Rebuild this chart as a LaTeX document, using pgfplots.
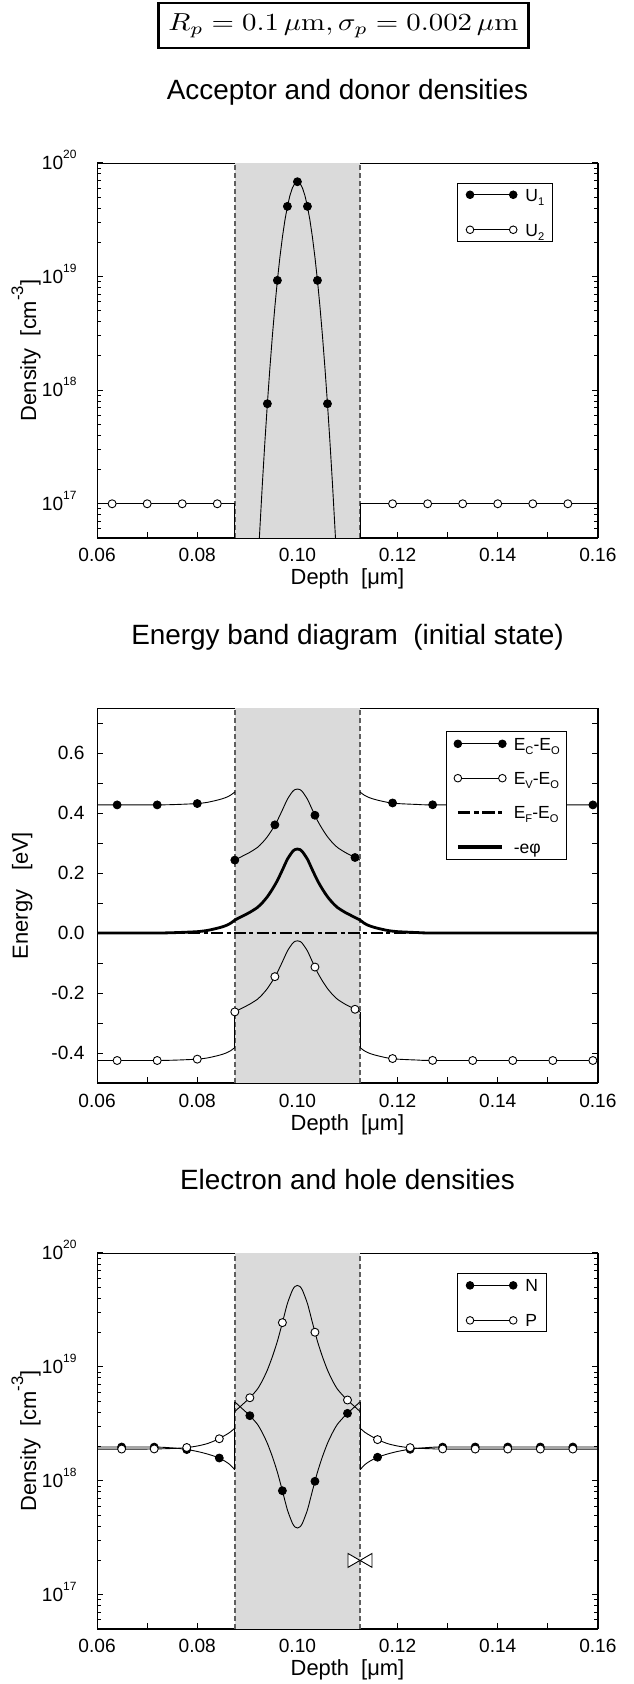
\documentclass[border=0pt]{standalone}
\usepackage[no-math]{fontspec}
\setmainfont{Liberation Sans}
\usepackage{graphicx}
\usepackage{pgfplots}
\pgfplotsset{compat=1.18}

\definecolor{shade}{RGB}{218,218,218}
\definecolor{dashgray}{RGB}{95,95,95}

% 10^n tick labels and small subscripts, as in the original figure
\newcommand\tp[1]{10\smash{\raisebox{5.5bp}{\fontsize{6}{6}\selectfont #1}}}
\newcommand\sub[1]{\raisebox{-2bp}{\fontsize{5.6}{6}\selectfont #1}}
\newcommand\cmm{[cm\raisebox{6.5bp}{\fontsize{8.4}{9}\selectfont -3}]}

% legend pictures: a line with a dot at each end
\newcommand\legdots[3]{% length, gap to text, fill colour
  \path[draw=none, fill=none] (-2bp,-2bp) rectangle (#2,2bp);
  \draw[black, line width=0.45bp] (0bp,0bp) -- (#1,0bp);
  \filldraw[fill=#3, draw=black, line width=0.45bp] (0bp,0bp) circle[radius=1.9bp];
  \filldraw[fill=#3, draw=black, line width=0.45bp] (#1,0bp) circle[radius=1.9bp];}

\pgfplotsset{
  panel/.style={
    scale only axis, width=250.4bp, height=187.5bp,
    xmin=0.06, xmax=0.16, clip=false,
    axis x line*=bottom, axis y line*=box,
    axis line style={-, line width=0.6bp},
    xtick={0.06,0.07,0.08,0.09,0.10,0.11,0.12,0.13,0.14,0.15,0.16},
    xticklabels={0.06,,0.08,,0.10,,0.12,,0.14,,0.16},
    xtick pos=left, ytick pos=both, yticklabel pos=left,
    tick align=inside,
    major tick length=2.8bp, minor tick length=2bp,
    tick style={line width=0.5bp, black},
    tick label style={font=\fontsize{9.6}{11}\selectfont},
    xticklabel style={yshift=-1.8bp},
    xlabel={Depth\hspace{0.55em}[μm]},
    xlabel style={font=\fontsize{11}{13}\selectfont, at={(axis description cs:0.5,0)}, anchor=base, yshift=-23.5bp},
    ylabel style={font=\fontsize{11}{13}\selectfont, anchor=base},
    title style={font=\fontsize{14}{16}\selectfont, at={(axis description cs:0.5,1)}, anchor=base, yshift=25.65bp},
    legend cell align=left,
    legend style={draw=black, line width=0.5bp, fill=white, anchor=north west,
      font=\fontsize{8.8}{10}\selectfont,
      nodes={inner sep=0pt, text height=6.3bp, text depth=0pt},
      inner xsep=4.1bp, inner ysep=2.65bp, row sep=11.2bp},
  },
  logpanel/.style={
    ymin=5e16, ymax=1e20,
    ytick={1e17,1e18,1e19,1e20},
    yticklabels={\tp{17},\tp{18},\tp{19},\tp{20}},
    minor ytick={6e16,7e16,8e16,9e16,2e17,3e17,4e17,5e17,6e17,7e17,8e17,9e17,
      2e18,3e18,4e18,5e18,6e18,7e18,8e18,9e18,2e19,3e19,4e19,5e19,6e19,7e19,8e19,9e19},
    yticklabel style={xshift=-6.8bp},
    ylabel={Density\hspace{0.55em}\cmm},
    ylabel style={at={(axis description cs:-0.122,0.5)}},
  },
  curve/.style={black, line width=0.45bp, forget plot},
  fdot/.style={only marks, mark=*, mark size=2bp, mark options={fill=black, draw=black}, forget plot},
  odot/.style={only marks, mark=*, mark size=2bp, mark options={fill=white, draw=black, line width=0.45bp}, forget plot},
  sep/.style={dashgray, line width=0.7bp, dash pattern=on 2.5bp off 1.5bp, forget plot},
  edge/.style={black, line width=0.45bp, line cap=rect, forget plot},
}

\begin{document}
\begin{tikzpicture}
\path[use as bounding box] (0bp,0bp) rectangle (317bp,-842bp);

\node[draw, line width=1.3bp, minimum width=184.8bp, minimum height=22.5bp, inner sep=0pt]
  at (171.7bp,-12.75bp)
  {\resizebox{175bp}{8.4bp}{$R_p = 0.1\,\mu\mathrm{m}, \sigma_p = 0.002\,\mu\mathrm{m}$}};

% ---------------- acceptor and donor densities
\begin{semilogyaxis}[panel, logpanel, at={(48.55bp,-81.5bp)}, anchor=north west,
    title={Acceptor and donor densities},
    legend style={at={(0.7188,0.9475)}}]
  \addplot[fill=shade, draw=none, forget plot] coordinates {(0.0875,5e16) (0.1125,5e16) (0.1125,1e20) (0.0875,1e20)} -- cycle;
  \addplot[edge] coordinates {(0.06,1e20) (0.0875,1e20)};
  \addplot[edge] coordinates {(0.1125,1e20) (0.16,1e20)};
  \addplot[sep] coordinates {(0.0875,5e16) (0.0875,1e20)};
  \addplot[sep] coordinates {(0.1125,5e16) (0.1125,1e20)};
  % U1
  \addplot[curve] coordinates {
    (0.0924,5.0e16) (0.0930,1.496e17) (0.0935,3.48e17) (0.0940,7.60e17) (0.0945,1.56e18)
    (0.0950,3.01e18) (0.0955,5.44e18) (0.0960,9.26e18) (0.0965,1.48e19) (0.0970,2.22e19)
    (0.0975,3.13e19) (0.0980,4.15e19) (0.0985,5.16e19) (0.0990,6.04e19) (0.0995,6.63e19)
    (0.1000,6.84e19) (0.1005,6.63e19) (0.1010,6.04e19) (0.1015,5.16e19) (0.1020,4.15e19)
    (0.1025,3.13e19) (0.1030,2.22e19) (0.1035,1.48e19) (0.1040,9.26e18) (0.1045,5.44e18)
    (0.1050,3.01e18) (0.1055,1.56e18) (0.1060,7.60e17) (0.1065,3.48e17) (0.1070,1.496e17)
    (0.1076,5.0e16)};
  \addplot[fdot] coordinates {(0.094,7.60e17) (0.096,9.26e18) (0.098,4.15e19) (0.100,6.84e19)
    (0.102,4.15e19) (0.104,9.26e18) (0.106,7.60e17)};
  % U2
  \addplot[curve] coordinates {(0.06,1e17) (0.0875,1e17) (0.0875,5e16)};
  \addplot[curve] coordinates {(0.1125,5e16) (0.1125,1e17) (0.16,1e17)};
  \addplot[odot] coordinates {(0.063,1e17) (0.070,1e17) (0.077,1e17) (0.084,1e17)
    (0.119,1e17) (0.126,1e17) (0.133,1e17) (0.140,1e17) (0.147,1e17) (0.154,1e17)};

  \addlegendimage{legend image code/.code={\legdots{21.6bp}{27.7bp}{black}}}
  \addlegendentry{U\sub{1}}
  \addlegendimage{legend image code/.code={\legdots{21.6bp}{27.7bp}{white}}}
  \addlegendentry{U\sub{2}}
\end{semilogyaxis}

% ---------------- energy band diagram
\begin{axis}[panel, at={(48.55bp,-354bp)}, anchor=north west,
    title={Energy band diagram\hspace{0.55em}(initial state)},
    ymin=-0.5, ymax=0.75,
    ytick={-0.4,-0.3,-0.2,-0.1,0,0.1,0.2,0.3,0.4,0.5,0.6,0.7},
    yticklabels={-0.4,,-0.2,,0.0,,0.2,,0.4,,0.6,},
    yticklabel style={xshift=-2.8bp},
    ylabel={Energy\hspace{0.85em}[eV]},
    ylabel style={at={(axis description cs:-0.1383,0.5)}},
    legend style={at={(0.6971,0.9395)}, inner xsep=3.45bp, inner ysep=3.15bp, row sep=10.9bp}]
  \addplot[fill=shade, draw=none, forget plot] coordinates {(0.0875,-0.5) (0.1125,-0.5) (0.1125,0.75) (0.0875,0.75)} -- cycle;
  \addplot[edge] coordinates {(0.06,0.75) (0.0875,0.75)};
  \addplot[edge] coordinates {(0.1125,0.75) (0.16,0.75)};
  \addplot[sep] coordinates {(0.0875,-0.5) (0.0875,0.75)};
  \addplot[sep] coordinates {(0.1125,-0.5) (0.1125,0.75)};
  % E_F - E_O
  \addplot[black, line width=1.2bp, dash pattern=on 6bp off 1.7bp on 2bp off 1.7bp, forget plot]
    coordinates {(0.06,0) (0.16,0)};
  % -e phi
  \addplot[black, line width=1.4bp, smooth, tension=0.4, forget plot] coordinates {
    (0.0600,0) (0.0720,0) (0.0760,0.0015) (0.0800,0.0045) (0.0820,0.0085) (0.0839,0.0155)
    (0.0850,0.0205) (0.0859,0.026) (0.0867,0.033) (0.0875,0.043) (0.0890,0.056) (0.0905,0.069)
    (0.0920,0.085) (0.0930,0.101) (0.0940,0.121) (0.0950,0.146) (0.0960,0.175) (0.0970,0.210)
    (0.0980,0.246) (0.0990,0.271) (0.0995,0.278) (0.1000,0.280) (0.1005,0.278) (0.1010,0.271)
    (0.1020,0.246) (0.1030,0.210) (0.1040,0.175) (0.1050,0.146) (0.1060,0.121) (0.1070,0.101)
    (0.1080,0.085) (0.1095,0.069) (0.1110,0.056) (0.1125,0.043) (0.1133,0.033) (0.1141,0.026)
    (0.1150,0.0205) (0.1161,0.0155) (0.1180,0.0085) (0.1200,0.0045) (0.1240,0.0015)
    (0.1280,0) (0.1600,0)};
  % E_C - E_O
  \addplot[curve, smooth, tension=0.4] coordinates {
    (0.0600,0.4270) (0.0720,0.4270) (0.0760,0.4285) (0.0800,0.4315) (0.0820,0.4355)
    (0.0839,0.4425) (0.0850,0.4475) (0.0859,0.4530) (0.0867,0.4600) (0.0875,0.4700)};
  \addplot[curve, smooth, tension=0.4] coordinates {
    (0.0875,0.243) (0.0890,0.256) (0.0905,0.269) (0.0920,0.285) (0.0930,0.301) (0.0940,0.321)
    (0.0950,0.346) (0.0960,0.375) (0.0970,0.410) (0.0980,0.446) (0.0990,0.471) (0.0995,0.478)
    (0.1000,0.480) (0.1005,0.478) (0.1010,0.471) (0.1020,0.446) (0.1030,0.410) (0.1040,0.375)
    (0.1050,0.346) (0.1060,0.321) (0.1070,0.301) (0.1080,0.285) (0.1095,0.269) (0.1110,0.256)
    (0.1125,0.243)};
  \addplot[curve, smooth, tension=0.4] coordinates {
    (0.1125,0.4700) (0.1133,0.4600) (0.1141,0.4530) (0.1150,0.4475) (0.1161,0.4425)
    (0.1180,0.4355) (0.1200,0.4315) (0.1240,0.4285) (0.1280,0.4270) (0.1600,0.4270)};
  \addplot[fdot] coordinates {(0.064,0.427) (0.072,0.427) (0.080,0.4315) (0.0875,0.243)
    (0.0955,0.3605) (0.1035,0.3925) (0.1115,0.2517) (0.119,0.4335) (0.127,0.4274)
    (0.135,0.427) (0.143,0.427) (0.151,0.427) (0.159,0.427)};
  % E_V - E_O
  \addplot[curve, smooth, tension=0.4] coordinates {
    (0.0600,-0.4250) (0.0720,-0.4250) (0.0760,-0.4235) (0.0800,-0.4205) (0.0820,-0.4165)
    (0.0839,-0.4095) (0.0850,-0.4045) (0.0859,-0.3990) (0.0867,-0.3920) (0.0875,-0.3820)};
  \addplot[curve] coordinates {(0.0875,-0.3820) (0.0875,-0.263)};
  \addplot[curve, smooth, tension=0.4] coordinates {
    (0.0875,-0.263) (0.0890,-0.250) (0.0905,-0.237) (0.0920,-0.221) (0.0930,-0.205) (0.0940,-0.185)
    (0.0950,-0.160) (0.0960,-0.131) (0.0970,-0.096) (0.0980,-0.060) (0.0990,-0.035) (0.0995,-0.028)
    (0.1000,-0.026) (0.1005,-0.028) (0.1010,-0.035) (0.1020,-0.060) (0.1030,-0.096) (0.1040,-0.131)
    (0.1050,-0.160) (0.1060,-0.185) (0.1070,-0.205) (0.1080,-0.221) (0.1095,-0.237) (0.1110,-0.250)
    (0.1125,-0.263)};
  \addplot[curve] coordinates {(0.1125,-0.263) (0.1125,-0.3820)};
  \addplot[curve, smooth, tension=0.4] coordinates {
    (0.1125,-0.3820) (0.1133,-0.3920) (0.1141,-0.3990) (0.1150,-0.4045) (0.1161,-0.4095)
    (0.1180,-0.4165) (0.1200,-0.4205) (0.1240,-0.4235) (0.1280,-0.4250) (0.1600,-0.4250)};
  \addplot[odot] coordinates {(0.064,-0.425) (0.072,-0.425) (0.080,-0.4205) (0.0875,-0.263)
    (0.0955,-0.1455) (0.1035,-0.1135) (0.1115,-0.2543) (0.119,-0.4185) (0.127,-0.4246)
    (0.135,-0.425) (0.143,-0.425) (0.151,-0.425) (0.159,-0.425)};

  \addlegendimage{legend image code/.code={\legdots{22.25bp}{27.95bp}{black}}}
  \addlegendentry{E\sub{C}-E\sub{O}}
  \addlegendimage{legend image code/.code={\legdots{22.25bp}{27.95bp}{white}}}
  \addlegendentry{E\sub{V}-E\sub{O}}
  \addlegendimage{legend image code/.code={
    \path[draw=none, fill=none] (-2bp,-2bp) rectangle (27.95bp,2bp);
    \draw[black, line width=1.4bp, dash pattern=on 6.3bp off 1.7bp on 2.5bp off 1.7bp] (0bp,0bp) -- (22.25bp,0bp);}}
  \addlegendentry{E\sub{F}-E\sub{O}}
  \addlegendimage{legend image code/.code={
    \path[draw=none, fill=none] (-2bp,-2bp) rectangle (27.95bp,2bp);
    \draw[black, line width=1.7bp] (0bp,0bp) -- (22.25bp,0bp);}}
  \addlegendentry{-eφ}
\end{axis}

% ---------------- electron and hole densities
\begin{semilogyaxis}[panel, logpanel, at={(48.55bp,-626.5bp)}, anchor=north west, height=188bp,
    title={Electron and hole densities},
    legend style={at={(0.7188,0.946)}}]
  \addplot[fill=shade, draw=none, forget plot] coordinates {(0.0875,5e16) (0.1125,5e16) (0.1125,1e20) (0.0875,1e20)} -- cycle;
  \addplot[edge] coordinates {(0.06,1e20) (0.0875,1e20)};
  \addplot[edge] coordinates {(0.1125,1e20) (0.16,1e20)};
  \addplot[sep] coordinates {(0.0875,5e16) (0.0875,1e20)};
  \addplot[sep] coordinates {(0.1125,5e16) (0.1125,1e20)};
  % N
  \addplot[curve, smooth, tension=0.4] coordinates {
    (0.0600,1.98e18) (0.0700,1.98e18) (0.0730,1.97e18) (0.0760,1.93e18) (0.0780,1.88e18)
    (0.0800,1.81e18) (0.0820,1.72e18) (0.0840,1.61e18) (0.0855,1.49e18) (0.0865,1.39e18)
    (0.0875,1.25e18)};
  \addplot[curve] coordinates {(0.0875,1.25e18) (0.0875,4.93e18)};
  \addplot[curve, smooth, tension=0.4] coordinates {
    (0.0875,4.93e18) (0.0890,4.29e18) (0.0905,3.73e18) (0.0920,3.14e18) (0.0930,2.64e18)
    (0.0940,2.13e18) (0.0950,1.63e18) (0.0960,1.19e18) (0.0970,8.18e17) (0.0980,5.55e17)
    (0.0990,4.24e17) (0.0995,3.94e17) (0.1000,3.85e17) (0.1005,3.94e17) (0.1010,4.24e17)
    (0.1020,5.55e17) (0.1030,8.18e17) (0.1040,1.19e18) (0.1050,1.63e18) (0.1060,2.13e18)
    (0.1070,2.64e18) (0.1080,3.14e18) (0.1095,3.73e18) (0.1110,4.29e18) (0.1125,4.93e18)};
  \addplot[curve] coordinates {(0.1125,4.93e18) (0.1125,1.25e18)};
  \addplot[curve, smooth, tension=0.4] coordinates {
    (0.1125,1.25e18) (0.1135,1.39e18) (0.1145,1.49e18) (0.1160,1.61e18) (0.1180,1.72e18)
    (0.1200,1.81e18) (0.1220,1.88e18) (0.1240,1.93e18) (0.1270,1.97e18) (0.1300,1.98e18)
    (0.1600,1.98e18)};
  % P
  \addplot[curve, smooth, tension=0.4] coordinates {
    (0.0600,1.90e18) (0.0700,1.90e18) (0.0730,1.91e18) (0.0760,1.93e18) (0.0780,1.96e18)
    (0.0800,2.02e18) (0.0820,2.12e18) (0.0840,2.30e18) (0.0855,2.50e18) (0.0865,2.66e18)
    (0.0875,2.90e18)};
  \addplot[curve, smooth, tension=0.4] coordinates {
    (0.0875,4.06e18) (0.0890,4.66e18) (0.0905,5.36e18) (0.0920,6.37e18) (0.0930,7.57e18)
    (0.0940,9.39e18) (0.0950,1.229e19) (0.0960,1.679e19) (0.0970,2.446e19) (0.0980,3.603e19)
    (0.0990,4.715e19) (0.0995,5.08e19) (0.1000,5.19e19) (0.1005,5.08e19) (0.1010,4.715e19)
    (0.1020,3.603e19) (0.1030,2.446e19) (0.1040,1.679e19) (0.1050,1.229e19) (0.1060,9.39e18)
    (0.1070,7.57e18) (0.1080,6.37e18) (0.1095,5.36e18) (0.1110,4.66e18) (0.1125,4.06e18)};
  \addplot[curve, smooth, tension=0.4] coordinates {
    (0.1125,2.90e18) (0.1135,2.66e18) (0.1145,2.50e18) (0.1160,2.30e18) (0.1180,2.12e18)
    (0.1200,2.02e18) (0.1220,1.96e18) (0.1240,1.93e18) (0.1270,1.91e18) (0.1300,1.90e18)
    (0.1600,1.90e18)};
  \addplot[fdot] coordinates {(0.0649,1.98e18) (0.0714,1.975e18) (0.0779,1.88e18) (0.0844,1.585e18)
    (0.0905,3.73e18) (0.0970,8.18e17) (0.1035,9.9e17) (0.1100,3.91e18) (0.1160,1.61e18)
    (0.1225,1.89e18) (0.1290,1.975e18) (0.1355,1.98e18) (0.1420,1.98e18) (0.1485,1.98e18)
    (0.1550,1.98e18)};
  \addplot[odot] coordinates {(0.0649,1.90e18) (0.0714,1.905e18) (0.0779,1.96e18) (0.0844,2.34e18)
    (0.0905,5.36e18) (0.0970,2.446e19) (0.1035,2.015e19) (0.1100,5.12e18) (0.1160,2.30e18)
    (0.1225,1.955e18) (0.1290,1.905e18) (0.1355,1.90e18) (0.1420,1.90e18) (0.1485,1.90e18)
    (0.1550,1.90e18)};
  % bow-tie marker at the right interface
  \addplot[only marks, mark=triangle*, mark size=4bp, forget plot,
    mark options={rotate=-90, fill=white, draw=black, line width=0.45bp}] coordinates {(0.1109,2e17)};
  \addplot[only marks, mark=triangle*, mark size=4bp, forget plot,
    mark options={rotate=90, fill=white, draw=black, line width=0.45bp}] coordinates {(0.1141,2e17)};

  \addlegendimage{legend image code/.code={\legdots{21.6bp}{27.7bp}{black}}}
  \addlegendentry{N}
  \addlegendimage{legend image code/.code={\legdots{21.6bp}{27.7bp}{white}}}
  \addlegendentry{P}
\end{semilogyaxis}
\end{tikzpicture}
\end{document}
